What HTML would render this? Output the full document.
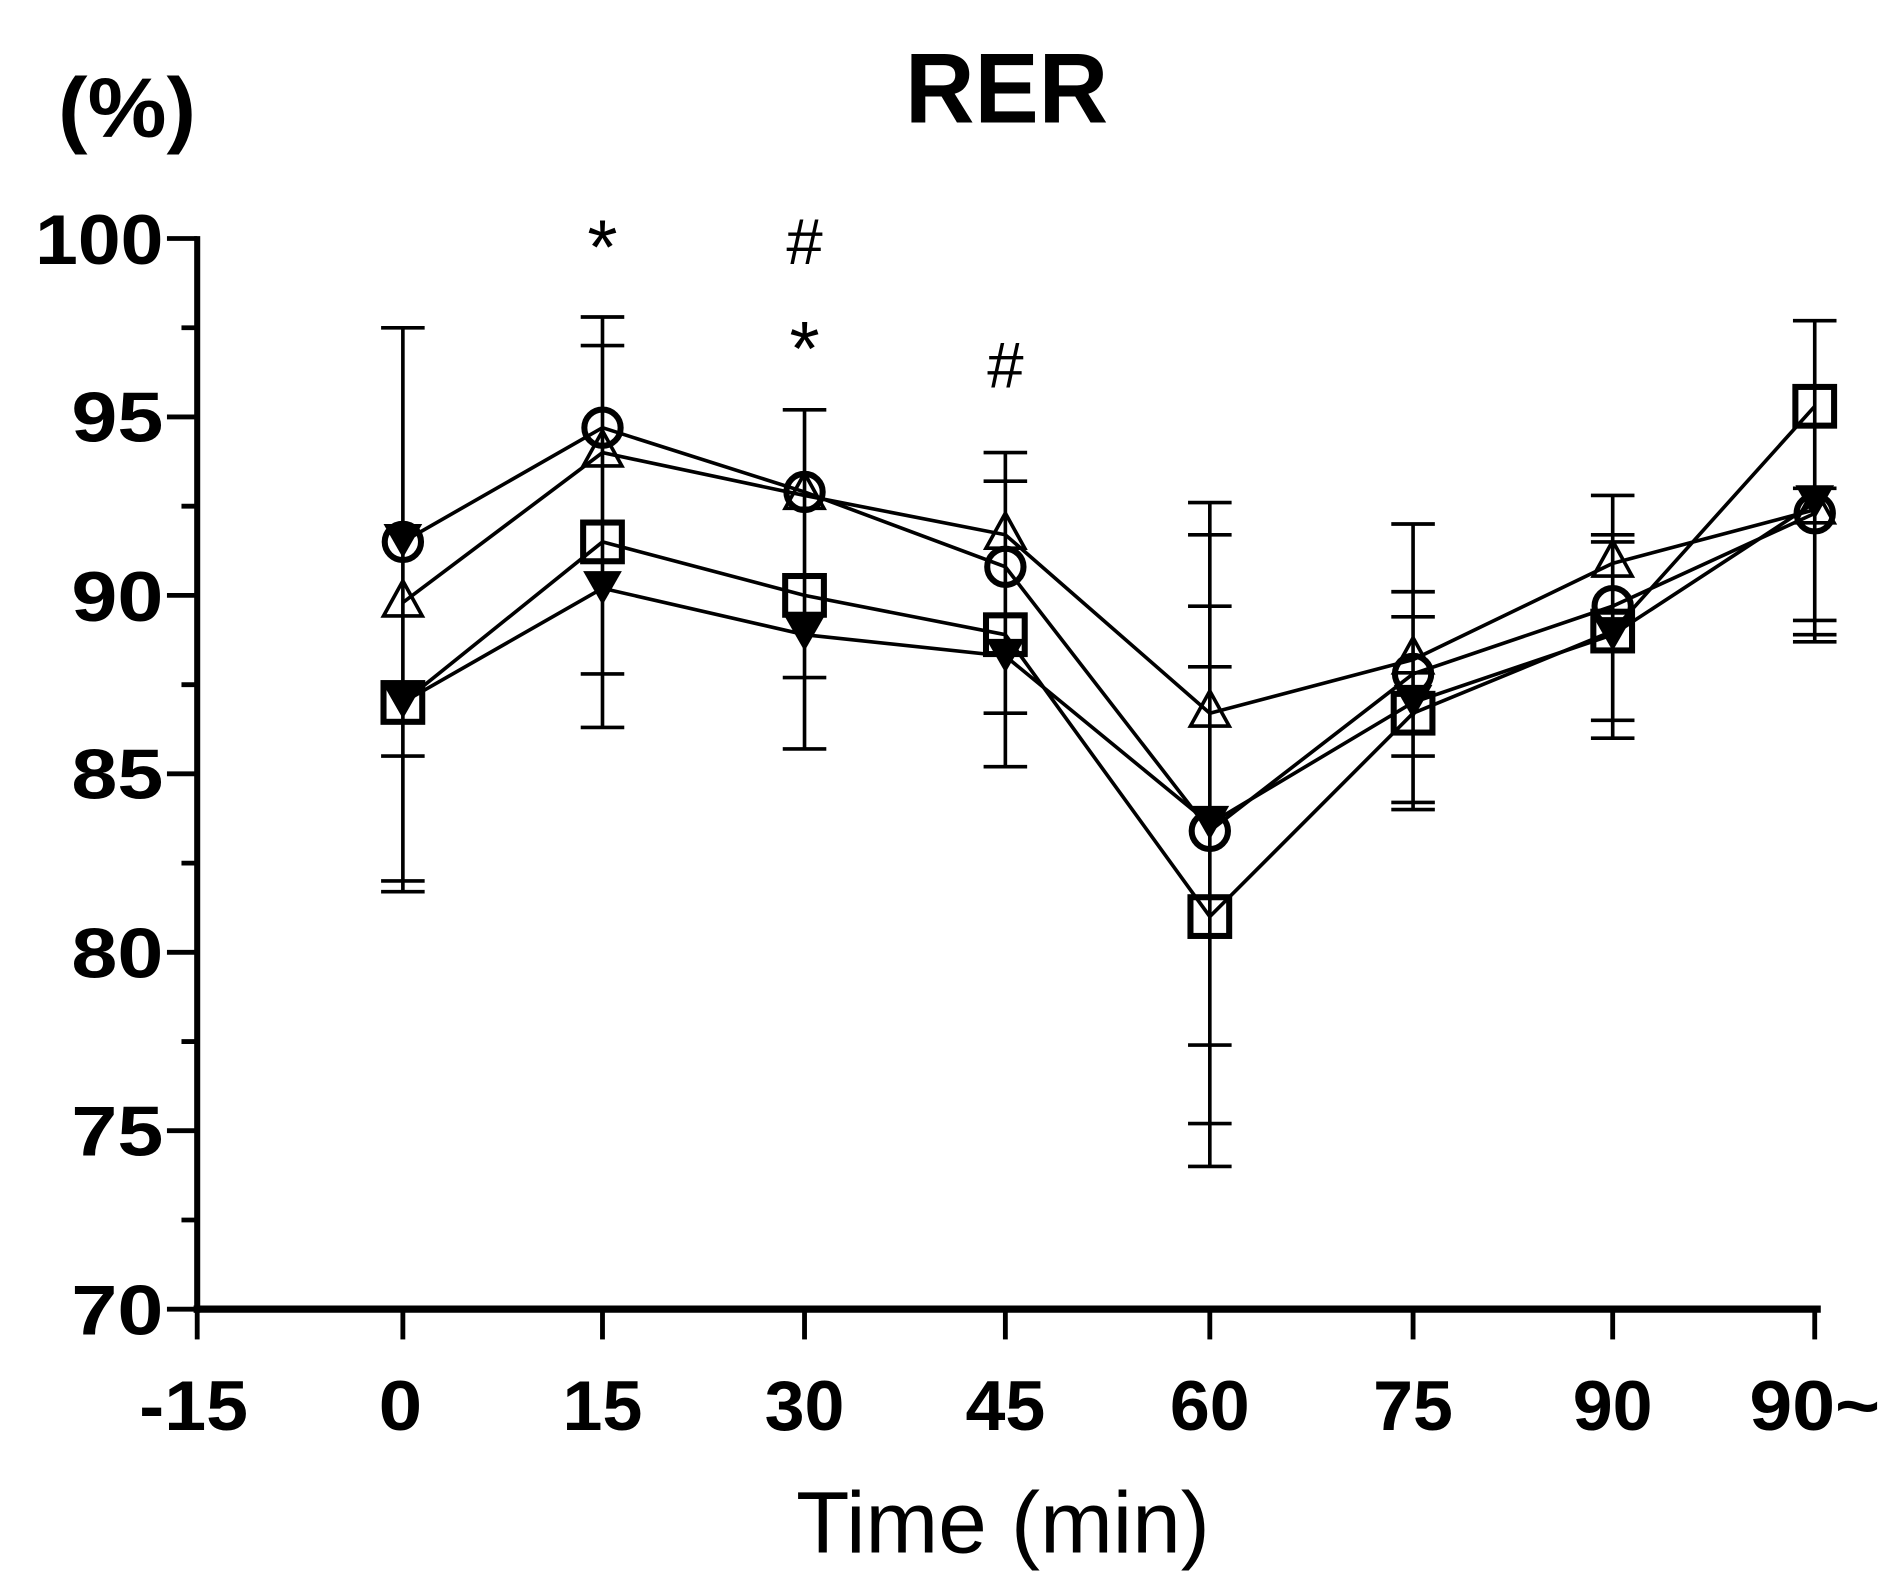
<!DOCTYPE html>
<html><head><meta charset="utf-8"><style>html,body{margin:0;padding:0;background:#fff}svg{display:block}</style></head>
<body>
<svg width="1897" height="1590" viewBox="0 0 1568 1314" xmlns="http://www.w3.org/2000/svg" font-family="Liberation Sans, sans-serif">
<rect width="1568" height="1314" fill="#fff"/>
<g stroke="#000" fill="none" stroke-linecap="butt">
<line x1="163" y1="195" x2="163" y2="1085" stroke-width="5"/>
<line x1="160" y1="1082" x2="1505" y2="1082" stroke-width="6"/>
<g stroke-width="4">
<line x1="138" y1="197" x2="163" y2="197"/><line x1="138" y1="344.5" x2="163" y2="344.5"/><line x1="138" y1="492" x2="163" y2="492"/><line x1="138" y1="639.5" x2="163" y2="639.5"/><line x1="138" y1="787" x2="163" y2="787"/><line x1="138" y1="934.5" x2="163" y2="934.5"/><line x1="138" y1="1082" x2="163" y2="1082"/>
<line x1="150" y1="270.8" x2="163" y2="270.8"/><line x1="150" y1="418.3" x2="163" y2="418.3"/><line x1="150" y1="565.8" x2="163" y2="565.8"/><line x1="150" y1="713.3" x2="163" y2="713.3"/><line x1="150" y1="860.8" x2="163" y2="860.8"/><line x1="150" y1="1008.3" x2="163" y2="1008.3"/>
<line x1="163" y1="1082" x2="163" y2="1107"/><line x1="333" y1="1082" x2="333" y2="1107"/><line x1="498" y1="1082" x2="498" y2="1107"/><line x1="665" y1="1082" x2="665" y2="1107"/><line x1="831" y1="1082" x2="831" y2="1107"/><line x1="1000" y1="1082" x2="1000" y2="1107"/><line x1="1168" y1="1082" x2="1168" y2="1107"/><line x1="1333" y1="1082" x2="1333" y2="1107"/><line x1="1500" y1="1082" x2="1500" y2="1107"/>
</g>
<g stroke-width="3">
<line x1="333" y1="270.8" x2="333" y2="736.9"/>
<path d="M315 270.8H351M315 624.8H351M315 728H351M315 736.9H351"/>
<line x1="498" y1="261.9" x2="498" y2="601.2"/>
<path d="M480 261.9H516M480 285.5H516M480 556.9H516M480 601.2H516"/>
<line x1="665" y1="338.6" x2="665" y2="618.9"/>
<path d="M647 338.6H683M647 559.9H683M647 618.9H683"/>
<line x1="831" y1="374" x2="831" y2="633.6"/>
<path d="M813 374H849M813 397.6H849M813 589.4H849M813 633.6H849"/>
<line x1="1000" y1="415.3" x2="1000" y2="964"/>
<path d="M982 415.3H1018M982 441.9H1018M982 500.9H1018M982 551H1018M982 863.7H1018M982 928.6H1018M982 964H1018"/>
<line x1="1168" y1="433" x2="1168" y2="669"/>
<path d="M1150 433H1186M1150 489H1186M1150 509.7H1186M1150 624.8H1186M1150 663.1H1186M1150 669H1186"/>
<line x1="1333" y1="409.4" x2="1333" y2="610"/>
<path d="M1315 409.4H1351M1315 441.9H1351M1315 447.8H1351M1315 595.3H1351M1315 610H1351"/>
<line x1="1500" y1="264.9" x2="1500" y2="530.4"/>
<path d="M1482 264.9H1518M1482 403.5H1518M1482 512.7H1518M1482 524.5H1518M1482 530.4H1518"/>
</g>
<g stroke-width="3">
<polyline points="333,447.8 498,353.4 665,406.5 831,468.4 1000,686.7 1168,556.9 1333,500.9 1500,424.2"/>
<polyline points="333,497.9 498,374 665,409.4 831,441.9 1000,589.4 1168,545.1 1333,465.5 1500,421.2"/>
<polyline points="333,580.5 498,447.8 665,492 831,524.5 1000,757.5 1168,589.4 1333,521.5 1500,335.7"/>
<polyline points="333,580.5 498,486.1 665,524.5 831,542.2 1000,680.8 1168,580.5 1333,524.5 1500,415.3"/>
</g>
</g>
<g fill="#000">
<path d="M317 433h32l-16 28z"/>
<path d="M317 566h32l-16 28z"/>
<path d="M482 472h32l-16 28z"/>
<path d="M649 510h32l-16 28z"/>
<path d="M815 528h32l-16 28z"/>
<path d="M984 666h32l-16 28z"/>
<path d="M1152 566h32l-16 28z"/>
<path d="M1317 510h32l-16 28z"/>
<path d="M1484 401h32l-16 28z"/>
</g>
<g fill="none" stroke="#000" stroke-width="5">
<rect x="317" y="564.5" width="32" height="32"/>
<rect x="482" y="431.8" width="32" height="32"/>
<rect x="649" y="476" width="32" height="32"/>
<rect x="815" y="508.5" width="32" height="32"/>
<rect x="984" y="741.5" width="32" height="32"/>
<rect x="1152" y="573.4" width="32" height="32"/>
<rect x="1317" y="505.5" width="32" height="32"/>
<rect x="1484" y="319.7" width="32" height="32"/>
<g stroke-width="3">
<path d="M333 480l-16 29h32z"/>
<path d="M498 356l-16 29h32z"/>
<path d="M665 391l-16 29h32z"/>
<path d="M831 424l-16 29h32z"/>
<path d="M1000 571l-16 29h32z"/>
<path d="M1168 527l-16 29h32z"/>
<path d="M1333 447l-16 29h32z"/>
<path d="M1500 403l-16 29h32z"/>
</g>
<circle cx="333" cy="447.8" r="15"/>
<circle cx="498" cy="353.4" r="15"/>
<circle cx="665" cy="406.5" r="15"/>
<circle cx="831" cy="468.4" r="15"/>
<circle cx="1000" cy="686.7" r="15"/>
<circle cx="1168" cy="556.9" r="15"/>
<circle cx="1333" cy="500.9" r="15"/>
<circle cx="1500" cy="424.2" r="15"/>
</g>
<g font-size="64" text-anchor="middle" fill="#000">
<text x="498" y="226">*</text>
<text x="665" y="310">*</text>
</g>
<g font-size="54" text-anchor="middle" fill="#000">
<text x="665" y="218">#</text>
<text x="831" y="320">#</text>
</g>
<g font-weight="bold" font-size="58" fill="#000" text-anchor="end">
<text x="135" y="218" textLength="106" lengthAdjust="spacingAndGlyphs">100</text>
<text x="135" y="365" textLength="76" lengthAdjust="spacingAndGlyphs">95</text>
<text x="135" y="513" textLength="76" lengthAdjust="spacingAndGlyphs">90</text>
<text x="135" y="660" textLength="76" lengthAdjust="spacingAndGlyphs">85</text>
<text x="135" y="808" textLength="76" lengthAdjust="spacingAndGlyphs">80</text>
<text x="135" y="955" textLength="76" lengthAdjust="spacingAndGlyphs">75</text>
<text x="135" y="1103" textLength="76" lengthAdjust="spacingAndGlyphs">70</text>
</g>
<g font-weight="bold" font-size="58" fill="#000" text-anchor="middle">
<text x="160" y="1182" textLength="90" lengthAdjust="spacingAndGlyphs">-15</text>
<text x="331" y="1182" textLength="36" lengthAdjust="spacingAndGlyphs">0</text>
<text x="498" y="1182" textLength="66" lengthAdjust="spacingAndGlyphs">15</text>
<text x="665" y="1182" textLength="66" lengthAdjust="spacingAndGlyphs">30</text>
<text x="831" y="1182" textLength="66" lengthAdjust="spacingAndGlyphs">45</text>
<text x="1000" y="1182" textLength="66" lengthAdjust="spacingAndGlyphs">60</text>
<text x="1168" y="1182" textLength="66" lengthAdjust="spacingAndGlyphs">75</text>
<text x="1333" y="1182" textLength="66" lengthAdjust="spacingAndGlyphs">90</text>
<text x="1500" y="1182" textLength="108" lengthAdjust="spacingAndGlyphs">90~</text>
</g>
<text x="832" y="101" font-weight="bold" font-size="82" text-anchor="middle" fill="#000" textLength="168" lengthAdjust="spacingAndGlyphs">RER</text>
<text x="48" y="113" font-weight="bold" font-size="70" fill="#000" textLength="114" lengthAdjust="spacingAndGlyphs">(%)</text>
<text x="829" y="1283" font-size="72" text-anchor="middle" fill="#000" textLength="342" lengthAdjust="spacingAndGlyphs">Time (min)</text>
</svg>
</body></html>
